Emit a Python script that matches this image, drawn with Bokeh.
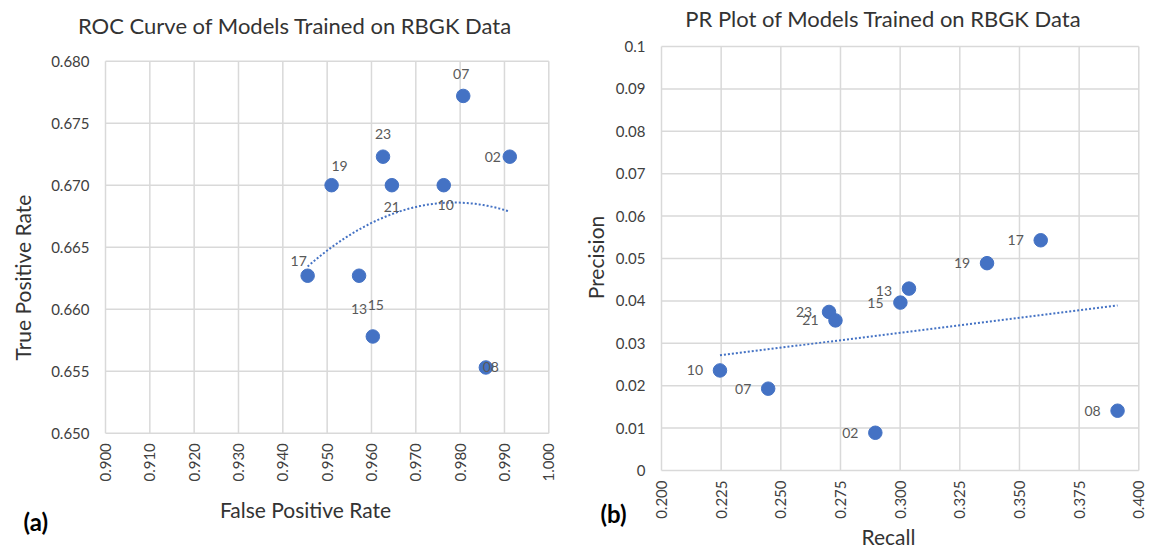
import numpy as np
from bokeh.plotting import figure
from bokeh.layouts import row
from bokeh.models import Range1d
from bokeh.embed import file_html
from bokeh.resources import INLINE
from bokeh.core.properties import value

# ---------------- data ----------------
roc_models = ["07", "02", "23", "19", "21", "10", "17", "13", "15", "08"]
roc_fpr = [0.9807, 0.9912, 0.9626, 0.9510, 0.9646, 0.9763, 0.9456, 0.9572, 0.9603, 0.9858]
roc_tpr = [0.6772, 0.6723, 0.6723, 0.6700, 0.6700, 0.6700, 0.6627, 0.6627, 0.6578, 0.6553]

pr_models = ["17", "19", "13", "15", "23", "21", "10", "07", "02", "08"]
pr_recall = [0.3589, 0.3364, 0.3037, 0.3001, 0.2702, 0.2729, 0.2245, 0.2447, 0.2896, 0.3911]
pr_precision = [0.0543, 0.0489, 0.0429, 0.0396, 0.0374, 0.0354, 0.0236, 0.0193, 0.0089, 0.0141]

roc_x_ticks = [0.90, 0.91, 0.92, 0.93, 0.94, 0.95, 0.96, 0.97, 0.98, 0.99, 1.00]
roc_x_labels = ["0.900", "0.910", "0.920", "0.930", "0.940", "0.950",
                "0.960", "0.970", "0.980", "0.990", "1.000"]
roc_y_ticks = [0.650, 0.655, 0.660, 0.665, 0.670, 0.675, 0.680]
roc_y_labels = ["0.650", "0.655", "0.660", "0.665", "0.670", "0.675", "0.680"]
pr_x_ticks = [0.200, 0.225, 0.250, 0.275, 0.300, 0.325, 0.350, 0.375, 0.400]
pr_x_labels = ["0.200", "0.225", "0.250", "0.275", "0.300", "0.325", "0.350", "0.375", "0.400"]
pr_y_ticks = [0, 0.01, 0.02, 0.03, 0.04, 0.05, 0.06, 0.07, 0.08, 0.09, 0.1]
pr_y_labels = ["0", "0.01", "0.02", "0.03", "0.04", "0.05", "0.06", "0.07", "0.08", "0.09", "0.1"]

# ---------------- styling / layout (pixels) ----------------
roc_dx = [-2, -17, 0, 8, 0, 2, -9, 0, 3, 5]
roc_dy = [-22, 0, -23, -19, 22, 20, -15, 33, -31, 0]
pr_dx = [-25] * 10
pr_dy = [0, 0, 2, 0, 0, 0, 0, 0, 0, 0]

FONT = value("Lato")
BLUE = "#4472C4"
GRID = "#d9d9d9"
TICK = "#404040"
AXT = "#333333"
H = 551
W1, W2 = 570, 579
BOX1 = (105, 548.3, 60.7, 432.7)   # left, right, top, bottom of plot box in figure px
BOX2 = (91, 568.3, 46, 470)


def ranges(width, height, box, xt, yt):
    left, right, top, bottom = box
    kx = (right - left) / (xt[-1] - xt[0])
    ky = (bottom - top) / (yt[-1] - yt[0])
    return (Range1d(xt[0] - left / kx, xt[0] + (width - left) / kx),
            Range1d(yt[0] - (height - bottom) / ky, yt[-1] + top / ky))


def base(width, box, xt, yt, xlab, ylab):
    xr, yr = ranges(width, H, box, xt, yt)
    p = figure(width=width, height=H, x_range=xr, y_range=yr,
               output_backend="svg", toolbar_location=None,
               min_border=0, min_border_left=0, min_border_right=0,
               min_border_top=0, min_border_bottom=0,
               outline_line_color=None, background_fill_color="white",
               border_fill_color="white")
    p.xaxis.visible = False
    p.yaxis.visible = False
    p.xgrid.visible = False
    p.ygrid.visible = False
    nx, ny = len(xt), len(yt)
    p.segment(x0=xt, y0=[yt[0]] * nx, x1=xt, y1=[yt[-1]] * nx,
              line_color=GRID, line_width=1.5)
    p.segment(x0=[xt[0]] * ny, y0=yt, x1=[xt[-1]] * ny, y1=yt,
              line_color=GRID, line_width=1.5)
    p.text(x=[xt[0]] * ny, y=yt, text=ylab, x_offset=-16,
           text_align="right", text_baseline="middle", text_font=FONT,
           text_font_size="15px", text_color=TICK)
    p.text(x=xt, y=[yt[0]] * nx, text=xlab, angle=np.pi / 2, y_offset=10,
           text_align="right", text_baseline="middle", text_font=FONT,
           text_font_size="15px", text_color=TICK)
    return p


def note(p, x, y, text, dx, dy, size, color=AXT, angle=0.0, align="center", bold=False):
    p.text(x=[x], y=[y], text=[text], x_offset=dx, y_offset=dy, angle=angle,
           text_align=align, text_baseline="middle", text_font=FONT,
           text_font_size=size, text_color=color,
           text_font_style="bold" if bold else "normal")


def points(p, xs, ys, names, dx, dy):
    p.scatter(xs, ys, size=13.5, fill_color=BLUE, line_color=BLUE)
    p.text(x=xs, y=ys, text=names, x_offset=dx, y_offset=dy,
           text_align="center", text_baseline="middle", text_font=FONT,
           text_font_size="14px", text_color="#595959")


# ---------------- ROC ----------------
p1 = base(W1, BOX1, roc_x_ticks, roc_y_ticks, roc_x_labels, roc_y_labels)
c1 = np.polyfit(roc_fpr, roc_tpr, 2)
tx = np.linspace(min(roc_fpr), max(roc_fpr), 100)
p1.line(tx, np.polyval(c1, tx), line_color=BLUE, line_width=2, line_dash="2 2")
points(p1, roc_fpr, roc_tpr, roc_models, roc_dx, roc_dy)
x0, y0, y1 = roc_x_ticks[0], roc_y_ticks[0], roc_y_ticks[-1]
note(p1, x0, y1, "ROC Curve of Models Trained on RBGK Data", 189.6, -35.7, "22px")
note(p1, x0, y0, "True Positive Rate", -83.5, -155.7, "21px", angle=np.pi / 2)
note(p1, x0, y0, "False Positive Rate", 200, 76.3, "21px")
note(p1, x0, y0, "(a)", -82, 88.5, "24px", color="black", align="left", bold=True)

# ---------------- PR ----------------
p2 = base(W2, BOX2, pr_x_ticks, pr_y_ticks, pr_x_labels, pr_y_labels)
c2 = np.polyfit(pr_recall, pr_precision, 1)
rx = np.array([min(pr_recall), max(pr_recall)])
p2.line(rx, np.polyval(c2, rx), line_color=BLUE, line_width=2, line_dash="2 2")
points(p2, pr_recall, pr_precision, pr_models, pr_dx, pr_dy)
x0, y0, y1 = pr_x_ticks[0], pr_y_ticks[0], pr_y_ticks[-1]
note(p2, x0, y1, "PR Plot of Models Trained on RBGK Data", 222, -27.7, "22px")
note(p2, x0, y0, "Precision", -66, -213, "21px", angle=np.pi / 2)
note(p2, x0, y0, "Recall", 227, 66, "21px")
note(p2, x0, y0, "(b)", -61, 43, "24px", color="black", align="left", bold=True)

layout = row(p1, p2)
open("out.html", "w").write(file_html(layout, INLINE))
